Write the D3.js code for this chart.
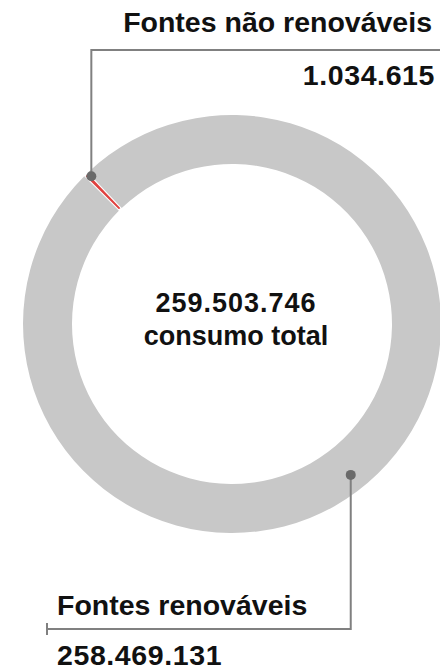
<!DOCTYPE html>
<html lang="pt">
<head>
    <meta charset="UTF-8">
    <title>Consumo de energia</title>
    <script src="https://cdn.jsdelivr.net/npm/d3@7"></script>
    <style>
        body { margin: 0; background: #fff; }
        text { font-family: "Liberation Sans", Arial, sans-serif; font-weight: bold; fill: #111; }
    </style>
</head>
<body>
<script type="text/javascript">
    // dados
    var categories = ['Fontes não renováveis', 'Fontes renováveis'];
    var values = [1034615, 258469131];
    var totalLabel = ['259.503.746', 'consumo total'];
    var colors = ['#e0413f', '#c8c8c8'];

    var width = 440;
    var height = 672;
    var cx = 232, cy = 324;
    var outerR = 209, innerR = 160;

    var svg = d3.select('body').append('svg')
            .attr('width', width)
            .attr('height', height);

    var fmt = d3.formatLocale({decimal: ',', thousands: '.', grouping: [3], currency: ['R$', '']}).format(',d');

    // o pedaço pequeno fica a cerca de -44 graus
    var start = -45 * Math.PI / 180;
    var pie = d3.pie()
            .sort(null)
            .startAngle(start)
            .endAngle(start + 2 * Math.PI)
            .value(function (d) { return d; });
    var arcs = pie(values);

    var arc = d3.arc()
            .innerRadius(innerR)
            .outerRadius(outerR);

    var g = svg.append('g')
            .attr('transform', 'translate(' + cx + ',' + cy + ')');

    g.selectAll('.slice')
            .data(arcs)
            .enter()
            .append('path')
            .attr('class', 'slice')
            .attr('d', arc)
            .style('fill', function (d, i) { return colors[i]; })
            .style('stroke', '#fff')
            .style('stroke-width', function (d, i) { return i === 0 ? 2.2 : 0; });

    // texto central
    g.selectAll('.centerText')
            .data(totalLabel)
            .enter()
            .append('text')
            .attr('class', 'centerText')
            .attr('x', 4)
            .attr('y', function (d, i) { return -12 + i * 33; })
            .attr('text-anchor', 'middle')
            .style('font-size', '27px')
            .style('letter-spacing', function (d, i) { return i === 0 ? '1px' : '0px'; })
            .text(function (d) { return d; });

    // linhas de chamada
    var leaders = [
        {angle: arcs[0].startAngle + (arcs[0].endAngle - arcs[0].startAngle) / 2 + 0.012, r: 204, y: 50, xEnd: 450},
        {angle: 141.8 * Math.PI / 180, r: 192, y: 629, xEnd: 47}
    ];
    leaders.forEach(function (l) {
        l.x = cx + l.r * Math.sin(l.angle);
        l.dy = cy - l.r * Math.cos(l.angle);
    });

    svg.selectAll('.leader')
            .data(leaders)
            .enter()
            .append('polyline')
            .attr('class', 'leader')
            .attr('points', function (d) {
                return [[d.x, d.dy], [d.x, d.y], [d.xEnd, d.y]].join(' ');
            })
            .style('fill', 'none')
            .style('stroke', '#808080')
            .style('stroke-width', 2);

    svg.append('line')
            .attr('x1', 47).attr('x2', 47)
            .attr('y1', 623).attr('y2', 635)
            .style('stroke', '#808080')
            .style('stroke-width', 2);

    svg.selectAll('.dot')
            .data(leaders)
            .enter()
            .append('circle')
            .attr('class', 'dot')
            .attr('cx', function (d) { return d.x; })
            .attr('cy', function (d) { return d.dy; })
            .attr('r', 5)
            .style('fill', '#6a6a6a');

    // rótulos
    var labels = [
        {text: categories[0], x: 432, y: 32, anchor: 'end', num: false},
        {text: fmt(values[0]), x: 435, y: 85, anchor: 'end', num: true},
        {text: categories[1], x: 57, y: 615, anchor: 'start', num: false},
        {text: fmt(values[1]), x: 57, y: 665, anchor: 'start', num: true}
    ];
    svg.selectAll('.label')
            .data(labels)
            .enter()
            .append('text')
            .attr('class', 'label')
            .attr('x', function (d) { return d.x; })
            .attr('y', function (d) { return d.y; })
            .attr('text-anchor', function (d) { return d.anchor; })
            .style('font-size', '28.5px')
            .style('letter-spacing', function (d) { return d.num ? '0.6px' : '0px'; })
            .text(function (d) { return d.text; });
</script>
</body>
</html>
